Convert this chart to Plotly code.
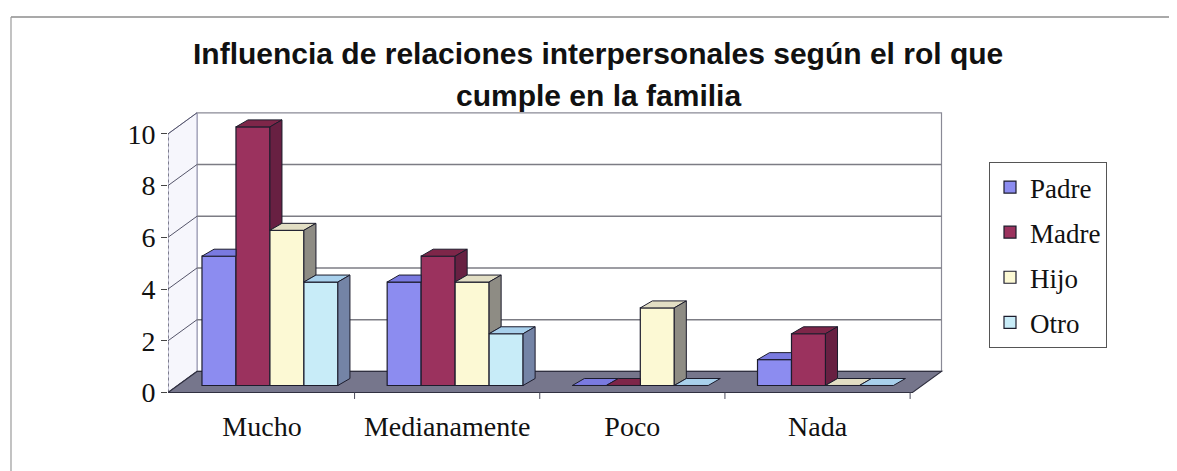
import plotly.graph_objects as go

# ---------------- data ----------------
categories = ["Mucho", "Medianamente", "Poco", "Nada"]
series_names = ["Padre", "Madre", "Hijo", "Otro"]
padre = [5, 4, 0, 1]
madre = [10, 5, 0, 2]
hijo = [6, 4, 3, 0]
otro = [4, 2, 0, 0]
y_ticks = [0, 2, 4, 6, 8, 10]
title_lines = ["Influencia de relaciones interpersonales según el rol que",
               "cumple en la familia"]

values = [padre, madre, hijo, otro]

# ---------------- styles ----------------
front_colors = ["#8c8cf0", "#9b325e", "#fcf9d4", "#c8ecf8"]
top_colors = ["#7a7ae0", "#7e2649", "#e2dec4", "#a8d0ec"]
side_colors = ["#55559c", "#682042", "#8e8c84", "#7484a6"]
edge = "#1c1c2c"

OFF = 8  # page body margin of the html page
W, H = 1177 - OFF, 471 - OFF
ML, MR, MT, MB = 168 - OFF, 233, 101 - OFF, 70
XR = [-0.5505, 3.64]
YR = [-0.6, 11.0]

BAR_W = 0.1835
GROUP = BAR_W * len(series_names)
DX, DY = 0.065, 0.27          # depth of each bar (data units)
FX, FY = -0.043, -0.271       # front plane offset vs bar plane
BX, BY = 0.1565, 0.814        # floor/wall depth (front -> back)
X_FRONT_L = XR[0]
X_FRONT_R = 3.47
X_BACK_L = X_FRONT_L + BX
X_BACK_R = X_FRONT_R + BX
Y_FRONT0 = FY
Y_BACK0 = FY + BY


def px_to_paper_x(px):
    return (px - OFF - ML) / (W - ML - MR)


def px_to_paper_y(py):
    return (H - MB - (py - OFF)) / (H - MT - MB)


fig = go.Figure()

# front faces: real bars
xs = list(range(len(categories)))
for j, name in enumerate(series_names):
    fig.add_trace(go.Bar(
        x=xs, y=values[j], name=name, legendgroup=name,
        width=BAR_W, offset=-GROUP / 2 + j * BAR_W,
        marker=dict(color=front_colors[j], line=dict(color=edge, width=1.2)),
        hoverinfo="x+y+name",
    ))

# 3D top and side faces computed from the same values
for j, name in enumerate(series_names):
    nxt = values[j + 1] if j + 1 < len(values) else None
    tx, ty, sx, sy = [], [], [], []
    for i, v in enumerate(values[j]):
        xl = i - GROUP / 2 + j * BAR_W
        xr = xl + BAR_W
        vn = nxt[i] if nxt is not None else None
        if vn is not None and vn > v:
            tx += [xl, xl + DX, xr, xr, xl, None]
        else:
            tx += [xl, xl + DX, xr + DX, xr, xl, None]
        ty += [v, v + DY, v + DY, v, v, None]
        base = 0 if vn is None else vn
        if v > base:
            sx += [xr, xr + DX, xr + DX, xr, xr, None]
            sy += [base, base + DY, v + DY, v, base, None]
    fig.add_trace(go.Scatter(
        x=tx, y=ty, mode="lines", fill="toself", fillcolor=top_colors[j],
        line=dict(color=edge, width=1), showlegend=False, hoverinfo="skip",
        legendgroup=name))
    if sx:
        fig.add_trace(go.Scatter(
            x=sx, y=sy, mode="lines", fill="toself", fillcolor=side_colors[j],
            line=dict(color=edge, width=1), showlegend=False, hoverinfo="skip",
            legendgroup=name))

shapes = []
top_v = max(y_ticks)
# back wall
shapes.append(dict(type="rect", xref="x", yref="y", layer="below",
                   x0=X_BACK_L, x1=X_BACK_R, y0=Y_BACK0, y1=Y_BACK0 + top_v,
                   fillcolor="white", line=dict(color="#8a8a96", width=1.2)))
# left wall
shapes.append(dict(type="path", xref="x", yref="y", layer="below",
                   path=f"M{X_FRONT_L},{Y_FRONT0} L{X_BACK_L},{Y_BACK0} "
                        f"L{X_BACK_L},{Y_BACK0 + top_v} L{X_FRONT_L},{Y_FRONT0 + top_v} Z",
                   fillcolor="#f6f6fc", line=dict(color="#9a9ab8", width=1)))
# gridlines on back wall and left wall connectors
for v in y_ticks:
    if 0 < v < top_v:
        shapes.append(dict(type="line", xref="x", yref="y", layer="below",
                           x0=X_BACK_L, x1=X_BACK_R, y0=Y_BACK0 + v, y1=Y_BACK0 + v,
                           line=dict(color="#7c7c84", width=1.6)))
    shapes.append(dict(type="line", xref="x", yref="y", layer="below",
                       x0=X_FRONT_L, x1=X_BACK_L, y0=Y_FRONT0 + v, y1=Y_BACK0 + v,
                       line=dict(color="#55556a", width=1)))
# floor
shapes.append(dict(type="path", xref="x", yref="y", layer="below",
                   path=f"M{X_FRONT_L},{Y_FRONT0} L{X_FRONT_R},{Y_FRONT0} "
                        f"L{X_BACK_R},{Y_BACK0} L{X_BACK_L},{Y_BACK0} Z",
                   fillcolor="#76768c", line=dict(color="#303040", width=1.2)))
# front value axis
shapes.append(dict(type="line", xref="x", yref="y", layer="above",
                   x0=X_FRONT_L, x1=X_FRONT_L, y0=Y_FRONT0, y1=Y_FRONT0 + top_v,
                   line=dict(color="#4a4a5a", width=1.2, dash="dot")))
# category tick marks along front floor edge
for i in range(len(categories)):
    bx = i + 0.5 + FX
    shapes.append(dict(type="line", xref="x", yref="y", layer="above",
                       x0=bx, x1=bx, y0=Y_FRONT0, y1=Y_FRONT0 - 0.25,
                       line=dict(color="#4a4a5a", width=1)))
# outer chart border (top and left)
shapes.append(dict(type="line", xref="paper", yref="paper",
                   x0=px_to_paper_x(11), x1=px_to_paper_x(1177),
                   y0=px_to_paper_y(17), y1=px_to_paper_y(17),
                   line=dict(color="#8c8c8c", width=1.5)))
shapes.append(dict(type="line", xref="paper", yref="paper",
                   x0=px_to_paper_x(11), x1=px_to_paper_x(11),
                   y0=px_to_paper_y(17), y1=px_to_paper_y(471),
                   line=dict(color="#9a9a9a", width=1.2)))

annotations = [
    dict(text=f"<b>{title_lines[0]}</b>", xref="paper", yref="paper",
         x=px_to_paper_x(598), y=px_to_paper_y(54), xanchor="center", yanchor="middle",
         showarrow=False, font=dict(family="Liberation Sans", size=30, color="#111")),
    dict(text=f"<b>{title_lines[1]}</b>", xref="paper", yref="paper",
         x=px_to_paper_x(598), y=px_to_paper_y(95), xanchor="center", yanchor="middle",
         showarrow=False, font=dict(family="Liberation Sans", size=30, color="#111")),
]

fig.update_layout(
    width=W, height=H,
    margin=dict(l=ML, r=MR, t=MT, b=MB, pad=0),
    paper_bgcolor="white", plot_bgcolor="white",
    barmode="overlay",
    shapes=shapes, annotations=annotations,
    showlegend=True,
    legend=dict(x=px_to_paper_x(989), y=px_to_paper_y(162), xanchor="left", yanchor="top",
                bordercolor="#555", borderwidth=1, bgcolor="white",
                font=dict(family="Liberation Serif", size=27, color="#111"),
                traceorder="grouped", tracegroupgap=7, itemwidth=30),
    xaxis=dict(range=XR, tickmode="array", tickvals=[i + FX for i in xs],
               ticktext=categories, showgrid=False, zeroline=False, showline=False,
               ticks="", ticklabelstandoff=6,
               tickfont=dict(family="Liberation Serif", size=28, color="#111")),
    yaxis=dict(range=YR, tickmode="array", tickvals=[v + FY for v in y_ticks],
               ticktext=[str(v) for v in y_ticks], showgrid=False, zeroline=False,
               showline=False, ticks="outside", ticklen=6, tickcolor="#444",
               tickfont=dict(family="Liberation Serif", size=28, color="#111")),
)

fig.write_html("out.html")
